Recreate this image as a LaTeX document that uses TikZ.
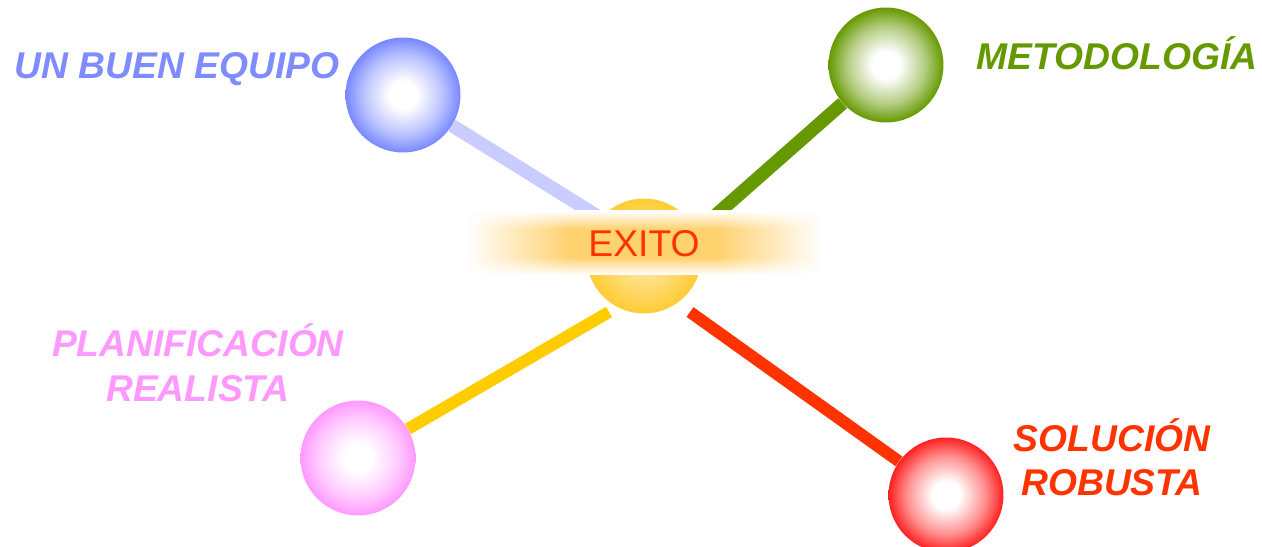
\documentclass[tikz,border=0pt]{standalone}
\usepackage{fontspec}
\setmainfont{Liberation Sans}
\usetikzlibrary{backgrounds,fadings}
\definecolor{glowColor}{RGB}{255,210,112}
\pgfdeclareradialshading[ballc]{softball}{\pgfpoint{0bp}{0bp}}{color(0bp)=(white); color(6bp)=(white); color(17bp)=(ballc!50!white); color(25bp)=(ballc); color(50bp)=(ballc)}
\pgfdeclareverticalshading{glowband}{100bp}{color(0bp)=(white); color(25bp)=(white); color(39bp)=(glowColor); color(61bp)=(glowColor); color(75bp)=(white); color(100bp)=(white)}
\tikzfading[name=fadeleft, left color=transparent!100, right color=transparent!0]
\tikzfading[name=faderight, left color=transparent!0, right color=transparent!100]
\begin{document}
\begin{tikzpicture}[x=0.02cm, y=-0.02cm,
    ball/.style={circle, minimum size=2.3cm, inner sep=0pt, /utils/exec={\colorlet{ballc}{#1}}, shade, shading=softball},
    spoke/.style={line width=7.6pt, draw=#1},
    thinspoke/.style={line width=6.8pt, draw=#1},
    band/.style={shade, shading=glowband},
    tag/.style={text=#1, font=\fontsize{21.2}{25.5}\selectfont\bfseries\itshape, align=center}]
    % Define colors
    \definecolor{equipoColor}{RGB}{120,136,255}
    \definecolor{equipoText}{RGB}{127,140,255}
    \definecolor{equipoLine}{RGB}{200,204,255}
    \definecolor{metodoColor}{RGB}{102,153,0}
    \definecolor{planColor}{RGB}{255,153,255}
    \definecolor{planLine}{RGB}{255,204,0}
    \definecolor{solucionColor}{RGB}{255,32,32}
    \definecolor{solucionText}{RGB}{255,51,0}
    \definecolor{exitoColor}{RGB}{255,204,51}
    \definecolor{exitoInner}{RGB}{255,236,190}
    \useasboundingbox (0,0) rectangle (1262,547);
    % Circles
    \node[ball=equipoColor] (equipo) at (403,95) {};
    \node[ball=metodoColor] (metodo) at (886,65) {};
    \node[ball=planColor] (plan) at (358,458) {};
    \node[ball=solucionColor] (solucion) at (946,495) {};
    \node[circle, minimum size=2.3cm, inner sep=0pt, inner color=exitoInner, outer color=exitoColor] (exito) at (644,256) {};
    % Inner ends of the spokes
    \coordinate (equipoEnd) at (615,227);
    \coordinate (metodoEnd) at (700,229);
    \coordinate (planEnd) at (609,312);
    \coordinate (solucionEnd) at (690,312);
    % Spokes, behind the circles
    \begin{scope}[on background layer]
        \draw[spoke=equipoLine] (equipo) -- (equipoEnd);
        \draw[spoke=metodoColor] (metodo) -- (metodoEnd);
        \draw[thinspoke=planLine] (plan) -- (planEnd);
        \draw[thinspoke=solucionText] (solucion) -- (solucionEnd);
    \end{scope}
    % Glow band over the centre
    \fill[white] (467,211) rectangle (822,275);
    \path[band, path fading=fadeleft] (467,211) rectangle (570,275);
    \path[band] (570,211) rectangle (718,275);
    \path[band, path fading=faderight] (718,211) rectangle (822,275);
    \node[text=solucionText, font=\fontsize{21.2}{24}\selectfont, anchor=base] (exitoTag) at (644,257) {EXITO};
    % Labels
    \node[tag=equipoText, anchor=base] (equipoTag) at (177,79) {UN BUEN EQUIPO};
    \node[tag=metodoColor, anchor=base] (metodoTag) at (1117,70) {METODOLOGÍA};
    \node[tag=planColor, anchor=base] (planTag) at (198,401) {PLANIFICACIÓN\\REALISTA};
    \node[tag=solucionText, anchor=base] (solucionTag) at (1112,496) {SOLUCIÓN\\ROBUSTA};
\end{tikzpicture}
\end{document}
